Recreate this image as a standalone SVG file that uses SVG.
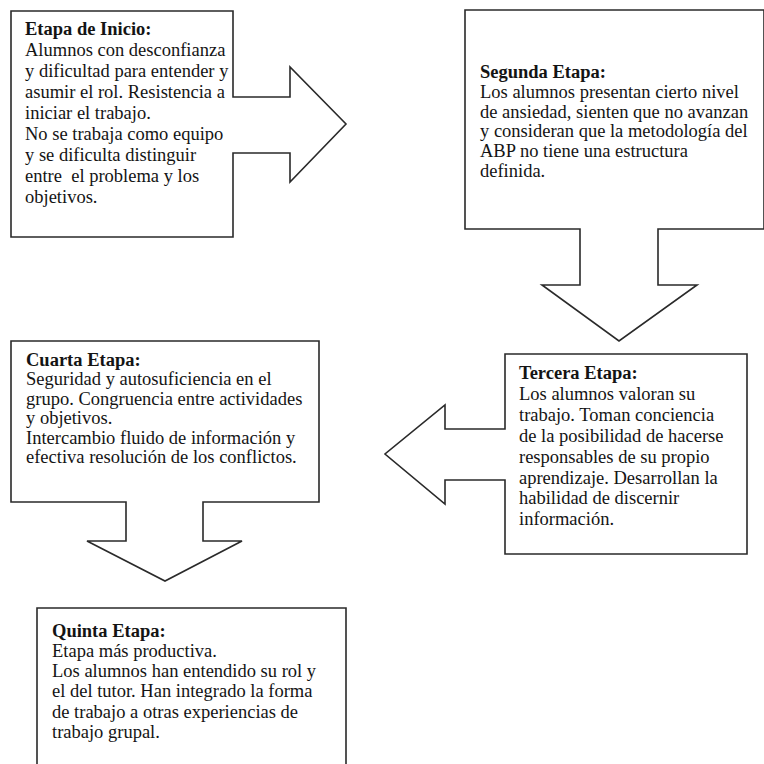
<svg xmlns="http://www.w3.org/2000/svg" width="764" height="764" viewBox="0 0 764 764">
<style>
.shape{fill:#fff;stroke:#2a2a2a;stroke-width:1.6;stroke-linejoin:miter}
text{font-family:"Liberation Serif","Times New Roman",serif;font-size:18.5px;fill:#141414}
.h{font-weight:bold}
</style>
<rect width="764" height="764" fill="#fff"/>
<g id="connectors"></g>
<g id="node-inicio">
<polygon class="shape" points="11,11 233,11 233,97 290,97 290,67 346,124 290,182 290,153 233,153 233,237 11,237"/>
<text x="25" y="35"><tspan class="h">Etapa de Inicio:</tspan><tspan x="25" dy="21">Alumnos con desconfianza</tspan><tspan x="25" dy="21">y dificultad para entender y</tspan><tspan x="25" dy="21">asumir el rol. Resistencia a</tspan><tspan x="25" dy="21">iniciar el trabajo.</tspan><tspan x="25" dy="21">No se trabaja como equipo</tspan><tspan x="25" dy="21">y se dificulta distinguir</tspan><tspan x="25" dy="21">entre&#160; el problema y los</tspan><tspan x="25" dy="21">objetivos.</tspan></text>
</g>
<g id="node-segunda">
<polygon class="shape" points="465,10 764,10 764,229 658,229 658,285 697,285 619,341 542,285 580,285 580,229 465,229"/>
<text x="480" y="78.3"><tspan class="h">Segunda Etapa:</tspan><tspan x="480" dy="19.7">Los alumnos presentan cierto nivel</tspan><tspan x="480" dy="19.7">de ansiedad, sienten que no avanzan</tspan><tspan x="480" dy="19.7">y consideran que la metodología del</tspan><tspan x="480" dy="19.7">ABP no tiene una estructura</tspan><tspan x="480" dy="19.7">definida.</tspan></text>
</g>
<g id="node-tercera">
<polygon class="shape" points="505,354 747,354 747,554 505,554 505,480 445,480 445,504 385,454 445,405 445,429 505,429"/>
<text x="519" y="379"><tspan class="h">Tercera Etapa:</tspan><tspan x="519" dy="20.9">Los alumnos valoran su</tspan><tspan x="519" dy="20.9">trabajo. Toman conciencia</tspan><tspan x="519" dy="20.9">de la posibilidad de hacerse</tspan><tspan x="519" dy="20.9">responsables de su propio</tspan><tspan x="519" dy="20.9">aprendizaje. Desarrollan la</tspan><tspan x="519" dy="20.9">habilidad de discernir</tspan><tspan x="519" dy="20.9">información.</tspan></text>
</g>
<g id="node-cuarta">
<polygon class="shape" points="11,341 319,341 319,502 203,502 203,541 242,541 165,581 87,541 126,541 126,502 11,502"/>
<text x="26" y="366"><tspan class="h">Cuarta Etapa:</tspan><tspan x="26" dy="19.4">Seguridad y autosuficiencia en el</tspan><tspan x="26" dy="19.4">grupo. Congruencia entre actividades</tspan><tspan x="26" dy="19.4">y objetivos.</tspan><tspan x="26" dy="19.4">Intercambio fluido de información y</tspan><tspan x="26" dy="19.4">efectiva resolución de los conflictos.</tspan></text>
</g>
<g id="node-quinta">
<polygon class="shape" points="37,780 37,608 346,608 346,780"/>
<text x="52" y="636.7"><tspan class="h">Quinta Etapa:</tspan><tspan x="52" dy="20.2">Etapa más productiva.</tspan><tspan x="52" dy="20.2">Los alumnos han entendido su rol y</tspan><tspan x="52" dy="20.2">el del tutor. Han integrado la forma</tspan><tspan x="52" dy="20.2">de trabajo a otras experiencias de</tspan><tspan x="52" dy="20.2">trabajo grupal.</tspan></text>
</g>
</svg>
